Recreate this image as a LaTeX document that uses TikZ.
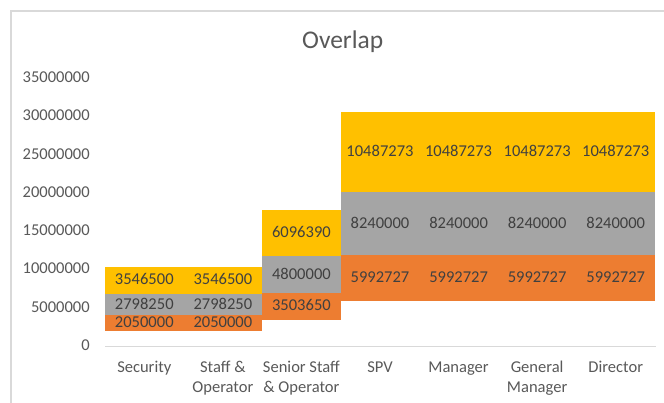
\documentclass[tikz,border=0pt]{standalone}
\usepackage{fontspec}
\setmainfont{Carlito}
\definecolor{xorange}{HTML}{ED7D31}
\definecolor{xgray}{HTML}{A5A5A5}
\definecolor{xgold}{HTML}{FFC000}
\definecolor{axtext}{HTML}{595959}
\definecolor{lbltext}{HTML}{404040}
\definecolor{gridc}{HTML}{D9D9D9}
\newcommand\barseg[6]{%
  \fill[#5] (#2,{346.6-7.648*#3}) rectangle ({#2+78.57},{346.6-7.648*#4});
  \node[lbl] (#1) at ({#2+39.285},{345.6-3.824*(#3+#4)}) {#6};
}
\begin{document}
\begin{tikzpicture}[x=0.75pt,y=-0.75pt,
  lbl/.style={font=\fontsize{12.4pt}{15pt}\selectfont, text=lbltext, inner sep=0pt},
  tick/.style={font=\fontsize{12.4pt}{15pt}\selectfont, text=axtext, anchor=east, inner sep=0pt},
  cat/.style={font=\fontsize{12.4pt}{15pt}\selectfont, text=axtext, align=center, anchor=base, inner sep=0pt},
  ttl/.style={font=\fontsize{19.1pt}{23pt}\selectfont, text=axtext, anchor=base, inner sep=0pt}]
\useasboundingbox (0,0) rectangle (664,403);
\fill[white] (0,0) rectangle (664,403);
\draw[gridc, line width=1pt] (11,404) -- (11,11) -- (665,11);
\node[ttl] (title) at (342.7,49) {Overlap};
% y axis labels
\foreach \v/\t in {0/0,5/5000000,10/10000000,15/15000000,20/20000000,25/25000000,30/30000000,35/35000000}
  \node[tick] (t\v) at (90,{345-7.648*\v}) {\t};
% axis line
\draw[gridc, line width=0.75pt] (105,346.6) -- (655.5,346.6);
% bars: Security, Staff & Operator
\foreach \n/\x in {a/105,b/183.57}{
  \barseg{\n o}{\x}{2.05}{4.1}{xorange}{2050000}
  \barseg{\n g}{\x}{4.1}{6.89825}{xgray}{2798250}
  \barseg{\n y}{\x}{6.89825}{10.44475}{xgold}{3546500}
}
% Senior Staff & Operator
\barseg{co}{262.14}{3.50365}{7.0073}{xorange}{3503650}
\barseg{cg}{262.14}{7.0073}{11.8073}{xgray}{4800000}
\barseg{cy}{262.14}{11.8073}{17.90369}{xgold}{6096390}
% SPV, Manager, General Manager, Director
\foreach \n/\x in {d/340.71,e/419.29,f/497.86,g/576.43}{
  \barseg{\n o}{\x}{5.992727}{11.985454}{xorange}{5992727}
  \barseg{\n g}{\x}{11.985454}{20.225454}{xgray}{8240000}
  \barseg{\n y}{\x}{20.225454}{30.712727}{xgold}{10487273}
}
% category labels (base anchor = baseline of last line)
\node[cat] (c1) at (144.29,372.5) {Security};
\node[cat] (c2) at (222.86,392.5) {Staff \&\\Operator};
\node[cat] (c3) at (301.43,392.5) {Senior Staff\\\& Operator};
\node[cat] (c4) at (380,372.5) {SPV};
\node[cat] (c5) at (458.57,372.5) {Manager};
\node[cat] (c6) at (537.14,392.5) {General\\Manager};
\node[cat] (c7) at (615.71,372.5) {Director};
\end{tikzpicture}
\end{document}
